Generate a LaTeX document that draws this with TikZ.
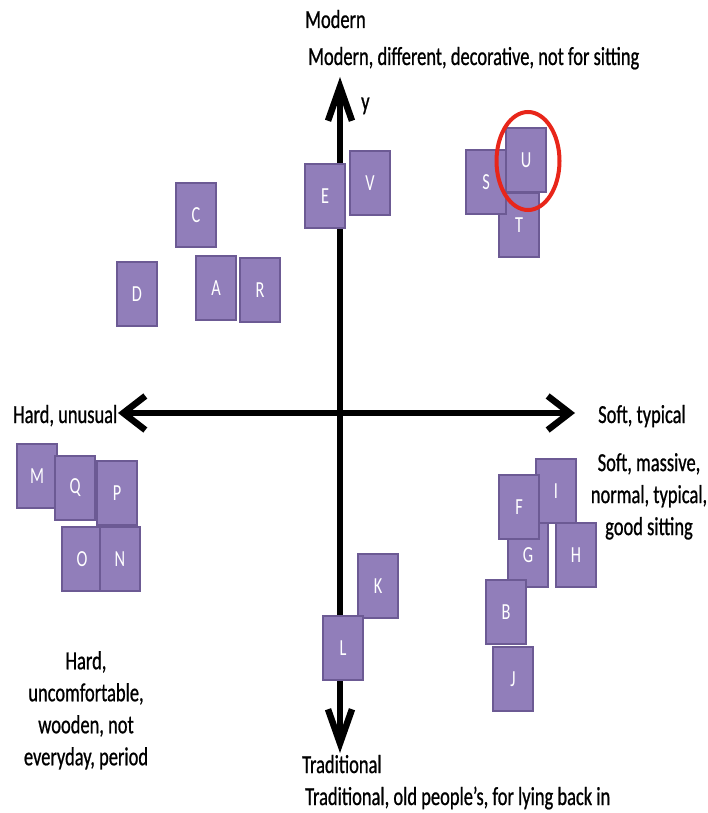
\documentclass[tikz,border=0pt]{standalone}
\usepackage{fontspec}
\setmainfont{Carlito}[FakeStretch=0.71]
\newfontfamily\lblfont{Carlito}[FakeStretch=0.71,FakeBold=0.8]
\usetikzlibrary{arrows.meta}
\definecolor{chairfill}{RGB}{145,126,186}
\definecolor{chairline}{RGB}{108,90,148}
\definecolor{ringred}{RGB}{232,38,26}

\begin{document}
\begin{tikzpicture} [x=1pt, y=-1pt,
  chair/.style={draw=chairline, line width=1.5pt, fill=chairfill, minimum width=40pt, minimum height=64pt, inner sep=0pt, text=white, font=\fontsize{23}{26}\selectfont},
  lbl/.style={font=\lblfont\fontsize{26}{32}\selectfont, align=center, inner sep=0pt},
  vaxis/.style={line width=6.5pt, {Straight Barb[length=34pt,width=24pt]}-{Straight Barb[length=34pt,width=24pt]}},
  haxis/.style={line width=6.5pt, {Straight Barb[length=22pt,width=34pt]}-{Straight Barb[length=22pt,width=34pt]}}]
\useasboundingbox (0,0) rectangle (707,813);
\coordinate (top) at (340,77);
\coordinate (bottom) at (340,753);
\coordinate (left) at (118,413);
\coordinate (right) at (575,413);
\draw [vaxis] (bottom) -- (top);
\draw [haxis] (left) -- (right);
% axis labels
\node [lbl, anchor=base west] (ylbl) at (361,110) {y};
\node [lbl, anchor=base west] (modern) at (305,28) {Modern};
\node [lbl, anchor=base west] (moderntxt) at (308,65) {Modern, different, decorative, not for sitting};
\node [lbl, anchor=base west] (hard) at (13,423) {Hard, unusual};
\node [lbl, anchor=base west] (soft) at (598,423) {Soft, typical};
\node [lbl, anchor=north] (softtxt) at (649,453) {Soft, massive,\\normal, typical,\\good sitting};
\node [lbl, anchor=north] (hardtxt) at (86,651) {Hard,\\uncomfortable,\\wooden, not\\everyday, period};
\node [lbl, anchor=base west] (trad) at (302,773) {Traditional};
\node [lbl, anchor=base west] (tradtxt) at (305,805) {Traditional, old people’s, for lying back in};
% chairs
\node [chair] (C) at (196,215) {C};
\node [chair] (D) at (137,294) {D};
\node [chair] (A) at (216,288) {A};
\node [chair] (R) at (260,290) {R};
\node [chair] (E) at (325,196) {E};
\node [chair] (V) at (370,183) {V};
\node [chair] (T) at (519,225) {T};
\node [chair] (S) at (486,182) {S};
\node [chair] (U) at (526,160) {U};
\node [chair] (M) at (37,476) {M};
\node [chair] (Q) at (75,488) {Q};
\node [chair] (P) at (117,493) {P};
\node [chair] (O) at (82,559) {O};
\node [chair] (N) at (120,559) {N};
\node [chair] (I) at (556,491) {I};
\node [chair] (G) at (528,555) {G};
\node [chair] (F) at (519,507) {F};
\node [chair] (H) at (576,555) {H};
\node [chair] (B) at (506,612) {B};
\node [chair] (J) at (513,679) {J};
\node [chair] (K) at (378,586) {K};
\node [chair] (L) at (343,648) {L};
\draw [ringred, line width=4pt] (528,161) ellipse [x radius=31.5, y radius=49];
\end{tikzpicture}
\end{document}
